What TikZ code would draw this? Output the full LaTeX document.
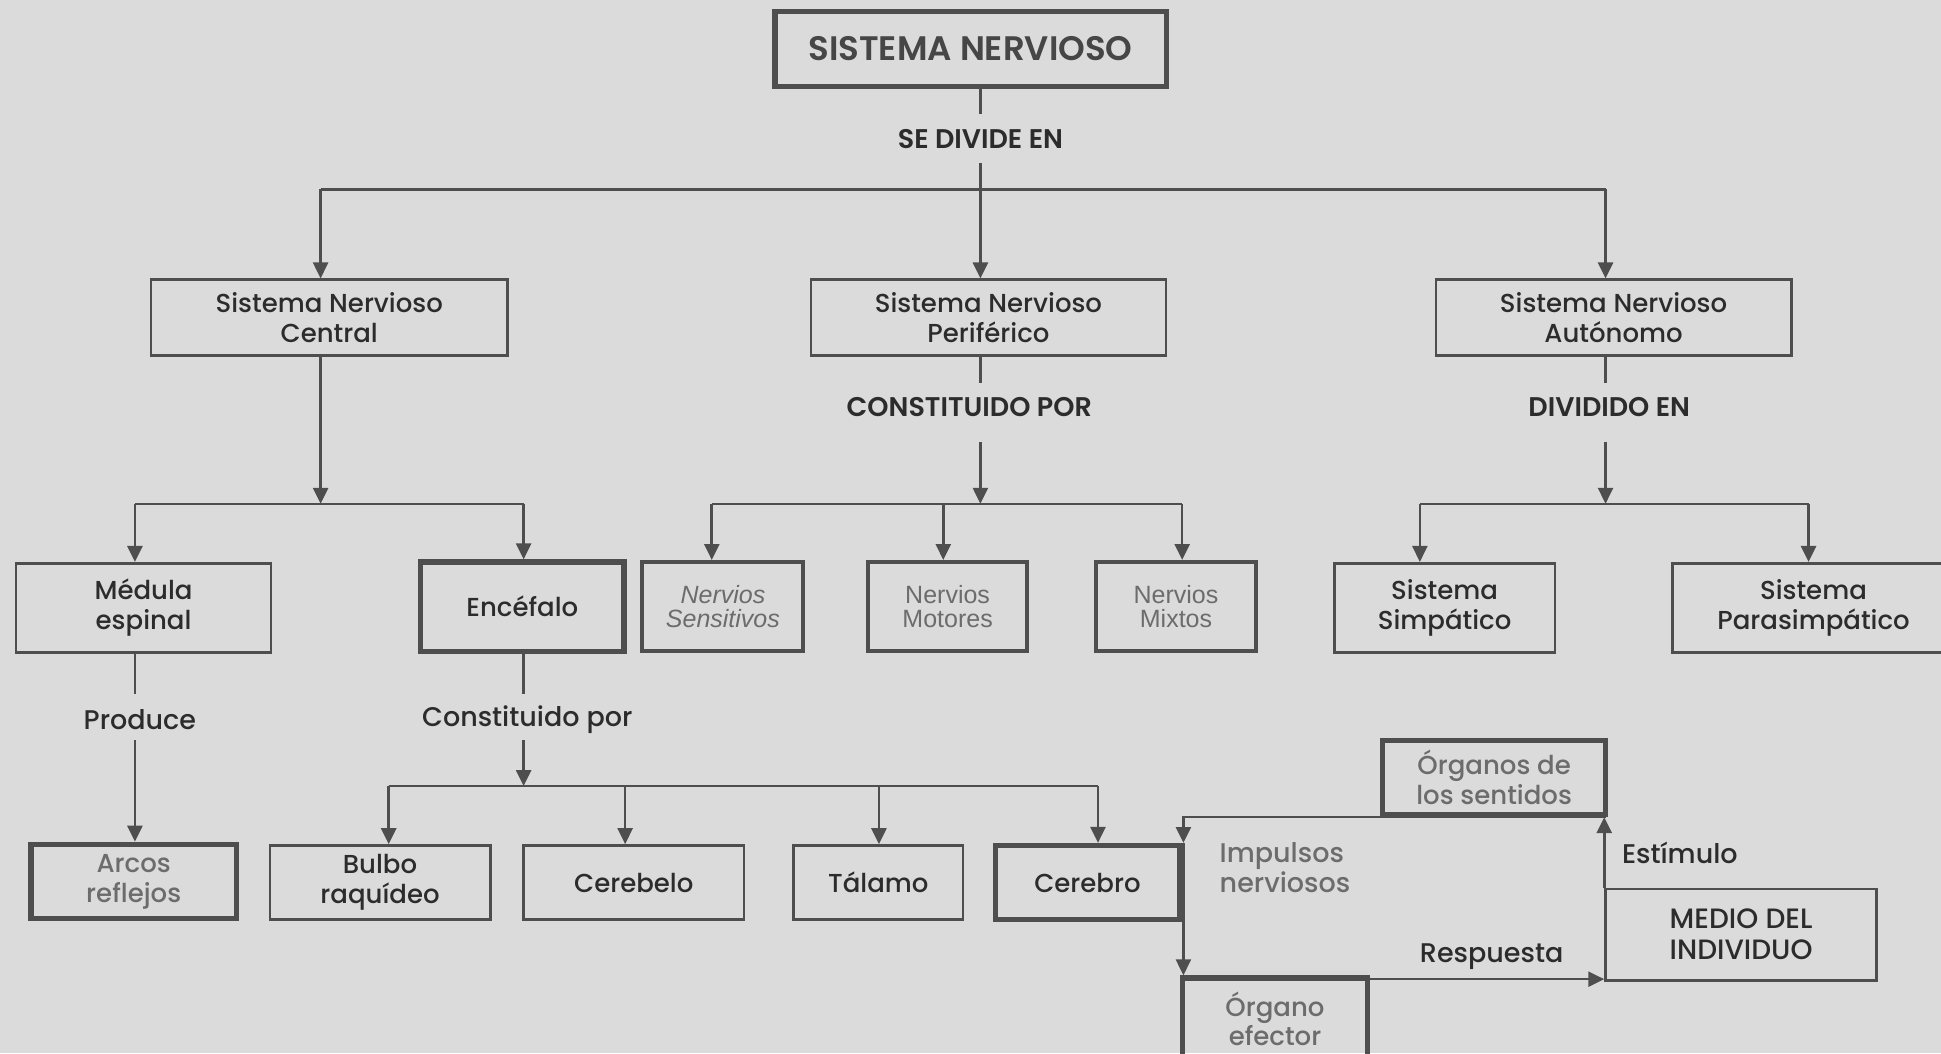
\documentclass[tikz,border=0pt]{standalone}
\usepackage{fontspec}
\setmainfont{Poppins}[UprightFont={* Medium}, BoldFont={* SemiBold}, ItalicFont={* Medium Italic}]
\newfontfamily\narrowsans{Liberation Sans}
\usetikzlibrary{arrows.meta}
\definecolor{bg}{HTML}{DBDBDB}
\definecolor{ln}{HTML}{4E4E4E}
\definecolor{tx}{HTML}{2C2C2C}
\definecolor{tg}{HTML}{6C6C6C}
\tikzset{
  sz/.style 2 args={minimum width=#1*0.619pt, minimum height=#2*0.619pt},
  box/.style={draw=ln, line width=1.3pt, inner sep=0pt, align=center,
    text=tx, font=\fontsize{13}{15}\selectfont},
  thickbox/.style={box, line width=2.6pt},
  nerve/.style={box, line width=2pt, text=tg, font=\fontsize{12.5}{11.8}\selectfont\narrowsans},
  lab/.style={text=tx, inner sep=0pt, font=\fontsize{13.5}{15}\selectfont},
  caplab/.style={text=tx, inner sep=0pt, font=\fontsize{13.5}{16}\selectfont\bfseries},
  conn/.style={draw=ln, line width=1.3pt},
  arr/.style={conn, -{Triangle[width=7.5pt,length=8pt]}},
}
\begin{document}
\begin{tikzpicture}[x=0.619pt, y=-0.619pt]
\fill[bg] (0,0) rectangle (1568,851);
\useasboundingbox (0,0) rectangle (1568,851);

% ---- boxes ----
\node[thickbox, sz={316}{61}, font=\fontsize{17}{20}\selectfont\bfseries, text=ln!90!black] (top) at (784,39.5) {SISTEMA NERVIOSO};

\node[box, sz={288}{61}] (snc) at (266,256.5) {Sistema Nervioso\\Central};
\node[box, sz={287}{61}] (snp) at (798.5,256.5) {Sistema Nervioso\\Periférico};
\node[box, sz={287}{61}] (sna) at (1303.5,256.5) {Sistema Nervioso\\Autónomo};

\node[box, sz={206}{72}] (med) at (116,491) {Médula\\espinal};
\node[thickbox, sz={164}{72}] (enc) at (422,490) {Encéfalo};
\node[nerve, sz={130}{72}, font=\fontsize{12.5}{11.8}\selectfont\narrowsans\itshape] (nsen) at (584,490) {Nervios\\Sensitivos};
\node[nerve, sz={129}{72}] (nmot) at (765.5,490) {Nervios\\Motores};
\node[nerve, sz={130}{72}] (nmix) at (950,490) {Nervios\\Mixtos};
\node[box, sz={178}{72}] (simp) at (1167,491) {Sistema\\Simpático};
\node[box, sz={228}{72}] (para) at (1465,491) {Sistema\\Parasimpático};

\node[thickbox, sz={166}{60}, text=tg] (arcos) at (108,712) {Arcos\\reflejos};
\node[box, sz={178}{60}] (bulbo) at (307,713) {Bulbo\\raquídeo};
\node[box, sz={178}{60}] (cerebelo) at (512,713) {Cerebelo};
\node[box, sz={137}{60}] (talamo) at (709.5,713) {Tálamo};
\node[thickbox, sz={149}{60}] (cerebro) at (878.5,713) {Cerebro};

\node[thickbox, sz={180}{60}, text=tg] (organos) at (1207,628) {Órganos de\\los sentidos};
\node[thickbox, sz={149}{66}, text=tg, font=\fontsize{13}{14.5}\selectfont] (efector) at (1030,823) {Órgano\\efector};
\node[box, sz={219}{74}, font=\fontsize{14}{15.5}\selectfont] (medio) at (1406.5,755) {MEDIO DEL\\INDIVIDUO};

% ---- first level: the whole system splits in three ----
\coordinate (v0) at (792,153);
\coordinate (h1) at (259,153);
\coordinate (h3) at (1297,153);
\draw[conn] (top.south -| v0) -- (v0);
\draw[conn] (h1) -- (h3);
\draw[arr] (h1) -- (snc.north -| h1);
\draw[arr] (v0) -- (snp.north -| v0);
\draw[arr] (h3) -- (sna.north -| h3);
\node[caplab, fill=bg, minimum height=39*0.619pt, inner xsep=2pt] (divide) at (792,112) {SE DIVIDE EN};

% ---- central system ----
\coordinate (c0) at (259,407);
\coordinate (c1) at (109,407);
\coordinate (c2) at (423,407);
\draw[arr] (snc.south -| c0) -- (c0);
\draw[conn] (c1) -- (c2);
\draw[arr] (c1) -- (med.north -| c1);
\draw[arr] (c2) -- (enc.north -| c2);

% ---- peripheral system ----
\coordinate (p0) at (792,407);
\coordinate (pa) at (792,309);
\coordinate (pb) at (792,357);
\coordinate (p1) at (575,407);
\coordinate (p2) at (762,407);
\coordinate (p3) at (955,407);
\draw[conn] (snp.south -| p0) -- (pa);
\node[caplab] (constit) at (783,329) {CONSTITUIDO POR};
\draw[arr] (pb) -- (p0);
\draw[conn] (p1) -- (p3);
\draw[arr] (p1) -- (nsen.north -| p1);
\draw[arr] (p2) -- (nmot.north -| p2);
\draw[arr] (p3) -- (nmix.north -| p3);

% ---- autonomic system ----
\coordinate (a0) at (1297,407);
\coordinate (aa) at (1297,309);
\coordinate (ab) at (1297,357);
\coordinate (a1) at (1147,407);
\coordinate (a2) at (1461,407);
\draw[conn] (sna.south -| a0) -- (aa);
\node[caplab] (dividido) at (1300,329) {DIVIDIDO EN};
\draw[arr] (ab) -- (a0);
\draw[conn] (a1) -- (a2);
\draw[arr] (a1) -- (simp.north -| a1);
\draw[arr] (a2) -- (para.north -| a2);

% ---- spinal cord ----
\coordinate (ma) at (109,561);
\coordinate (mb) at (109,598);
\draw[conn] (med.south -| ma) -- (ma);
\node[lab] (produce) at (113,581) {Produce};
\draw[arr] (mb) -- (arcos.north -| mb);

% ---- brain ----
\coordinate (ea) at (423,561);
\coordinate (eb) at (423,598);
\coordinate (e0) at (423,635);
\coordinate (e1) at (314,635);
\coordinate (e2) at (505,635);
\coordinate (e3) at (710,635);
\coordinate (e4) at (887,635);
\draw[conn] (enc.south -| ea) -- (ea);
\node[lab] (constit2) at (426,581) {Constituido por};
\draw[arr] (eb) -- (e0);
\draw[conn] (e1) -- (e4);
\draw[arr] (e1) -- (bulbo.north -| e1);
\draw[arr] (e2) -- (cerebelo.north -| e2);
\draw[arr] (e3) -- (talamo.north -| e3);
\draw[arr] (e4) -- (cerebro.north -| e4);

% ---- stimulus / response loop ----
\coordinate (l0) at (1297,660);
\coordinate (l1) at (956,660);
\coordinate (l2) at (956,681);
\coordinate (r0) at (1104,791);
\draw[arr] (l0) -- (l1) -- (l2);
\draw[arr] (l2) -- (l2 |- efector.north);
\draw[arr] (efector.east |- r0) -- (medio.west |- r0);
\draw[arr] (medio.north west) -- (medio.north west |- organos.south);
\node[lab, text=tg, align=left, anchor=west] (impulsos) at (985,701) {Impulsos\\nerviosos};
\node[lab] (estimulo) at (1357,689) {Estímulo};
\node[lab] (respuesta) at (1205,773) {Respuesta};
\end{tikzpicture}
\end{document}
